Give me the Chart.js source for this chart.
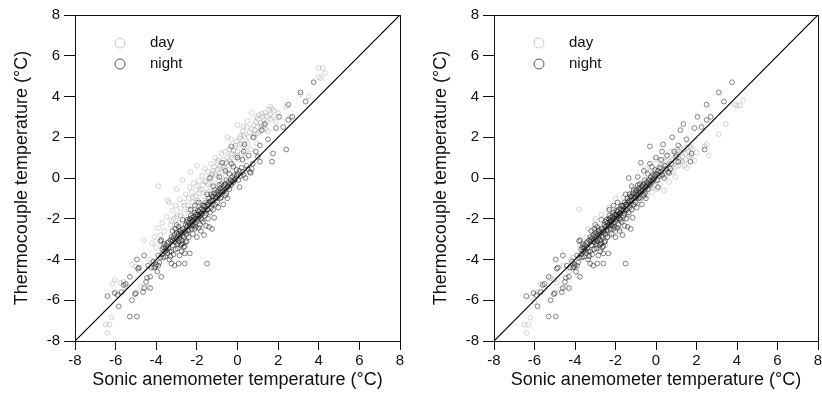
<!DOCTYPE html>
<html>
<head>
<meta charset="utf-8">
<script src="https://cdn.jsdelivr.net/npm/chart.js@4"></script>
<style>
    html, body { margin: 0; padding: 0; background: #fff; overflow: hidden; }
    #wrap { position: relative; width: 822px; height: 394px; overflow: hidden; }
    canvas { position: absolute; top: 0; }
</style>
</head>
<body>
<div id="wrap">
    <canvas id="left-chart" width="411" height="394" style="left:0"></canvas>
    <canvas id="right-chart" width="420" height="394" style="left:411px"></canvas>
</div>
<script>
// night values are the same in both panels
const nightPoints = [
    [-6.4,-5.8],[-6.05,-5.65],[-5.9,-5.75],[-5.85,-6.3],[-5.6,-5.25],[-5.5,-5.2],[-5.3,-4.85],[-5.3,-6.8],[-4.95,-6.8],[-5.2,-6.0],
    [-5.05,-5.7],[-5.0,-5.65],[-4.95,-4.0],[-4.9,-4.45],[-4.85,-4.4],[-4.65,-5.6],[-4.6,-3.8],[-4.6,-5.4],[-4.5,-5.1],[-4.45,-4.9],
    [-4.3,-4.85],[-4.3,-5.4],[-4.25,-4.4],[-4.1,-4.4],[-4.05,-4.35],[-4.0,-4.25],[-3.95,-4.6],[-3.9,-4.3],[-3.85,-4.15],[-3.8,-3.1],
    [-3.75,-3.05],[-3.75,-4.85],[-3.7,-3.5],[-3.7,-3.75],[-3.65,-3.4],[-3.6,-3.6],[-3.6,-3.25],[-3.55,-3.85],[-3.5,-3.3],[-3.5,-3.55],
    [-3.45,-3.7],[-3.4,-3.45],[-3.4,-3.15],[-3.35,-4.0],[-3.3,-3.85],[-3.3,-3.05],[-3.25,-4.2],[-3.25,-3.6],[-3.2,-2.6],[-3.2,-3.3],
    [-3.15,-3.75],[-3.1,-2.8],[-3.1,-4.3],[-3.05,-3.15],[-3.0,-3.0],[-3.0,-2.7],[-2.95,-2.85],[-2.95,-3.45],[-2.9,-3.1],[-2.9,-4.2],
    [-2.85,-2.95],[-2.85,-2.6],[-2.8,-3.3],[-2.8,-2.8],[-2.75,-2.7],[-2.75,-3.05],[-2.7,-3.2],[-2.7,-2.5],[-2.65,-3.4],[-2.65,-2.9],
    [-2.6,-3.7],[-2.6,-4.2],[-2.6,-2.65],[-2.55,-2.3],[-2.55,-3.15],[-2.5,-3.1],[-2.5,-2.4],[-2.5,-2.75],[-3.15,-2.95],[-3.05,-3.5],
    [-2.9,-2.4],[-2.75,-3.6],[-2.6,-3.35],[-3.2,-3.05],[-2.85,-3.8],[-2.45,-2.6],[-2.45,-2.05],[-2.4,-2.2],[-2.4,-2.9],[-2.35,-2.0],
    [-2.35,-3.7],[-2.3,-2.3],[-2.3,-1.85],[-2.25,-2.5],[-2.25,-2.15],[-2.2,-2.1],[-2.2,-2.75],[-2.15,-1.9],[-2.15,-2.35],[-2.1,-2.2],
    [-2.1,-1.7],[-2.05,-2.4],[-2.05,-2.0],[-2.0,-1.8],[-2.0,-2.9],[-1.95,-2.0],[-1.95,-1.6],[-1.9,-1.65],[-1.9,-2.45],[-1.85,-2.3],
    [-1.85,-1.85],[-1.8,-1.75],[-1.8,-2.6],[-1.75,-1.5],[-1.75,-2.05],[-1.7,-1.6],[-1.7,-2.15],[-1.65,-2.8],[-1.65,-1.35],[-1.6,-1.4],
    [-1.6,-1.85],[-1.55,-1.2],[-1.55,-2.35],[-1.5,-1.55],[-1.5,-4.2],[-1.45,-1.3],[-1.45,-2.0],[-1.4,-1.0],[-1.4,-2.4],[-1.35,-1.15],
    [-1.35,-1.7],[-1.3,-1.45],[-1.3,-0.8],[-1.25,-0.9],[-1.25,-2.5],[-1.2,-1.1],[-1.2,-1.55],[-1.15,-0.75],[-1.15,-1.95],[-1.1,-1.3],
    [-1.1,-0.6],[-1.05,-0.95],[-1.0,-0.7],[-1.0,-1.2],[-0.95,-0.6],[-0.95,-1.45],[-0.9,-0.85],[-0.9,-0.35],[-0.85,-0.5],[-0.85,-1.0],
    [-0.8,-0.95],[-0.8,-0.3],[-0.75,-0.7],[-0.7,-0.4],[-0.7,-1.3],[-0.65,-0.6],[-0.6,-0.3],[-0.6,-0.85],[-0.55,-0.75],[-0.55,-0.1],
    [-0.5,-0.45],[-0.5,-1.0],[-0.45,-0.2],[-0.4,-0.55],[-0.4,0.2],[-0.35,-0.1],[-0.3,-0.35],[-0.3,1.55],[-0.25,0.05],[-0.2,-0.2],
    [-0.2,0.55],[-0.15,0.15],[-0.1,-0.05],[-0.05,0.4],[0.0,0.2],[0.05,-0.1],[0.1,0.35],[0.1,-0.45],[0.2,0.5],[0.25,0.9],
    [0.3,0.15],[0.35,1.65],[0.4,0.0],[0.5,0.45],[0.55,1.1],[0.6,0.3],[0.65,0.25],[0.75,0.7],[0.8,2.0],[0.9,1.3],
    [1.1,0.8],[1.1,1.6],[1.2,2.35],[1.35,2.65],[1.5,1.9],[1.7,0.8],[1.75,1.2],[1.9,2.45],[2.05,3.0],[2.25,2.5],
    [2.4,1.4],[2.5,2.85],[2.5,3.6],[2.7,3.0],[3.1,4.2],[3.35,3.75],[3.75,4.7],[1.0,1.05],[-3.0,-2.3],[-2.7,-2.05],
    [-2.3,-1.55],[-1.9,-1.2],[-1.5,-0.8],[-1.2,-0.4],[-0.9,0.05],[-0.75,0.75],[-0.6,0.35],[-0.3,0.7],[0.0,1.0],[0.3,1.3],
    [-1.35,0.0],[-2.1,-1.35],[-3.45,-3.2],[-3.35,-3.6],[-3.25,-2.9],[-3.1,-3.1],[-3.05,-2.5],[-2.95,-3.25],[-2.9,-2.75],[-2.8,-2.55],
    [-2.75,-3.25],[-2.7,-2.85],[-2.55,-2.6],[-2.5,-2.15],[-2.45,-2.35],[-2.4,-2.55],[-2.35,-2.35],[-2.3,-2.05],[-2.25,-1.95],[-2.2,-2.3],
    [-2.15,-2.05],[-2.1,-2.5],[-2.05,-1.8],[-2.0,-2.1],[-1.95,-1.8],[-1.9,-1.9],[-1.85,-1.55],[-1.8,-2.0],[-1.75,-1.75],[-1.7,-1.35],
    [-1.6,-1.6],[-1.55,-1.75],[-1.5,-1.3],[-1.45,-1.55],[-1.4,-1.2],[-1.3,-1.1],[-1.25,-1.3],[-1.2,-0.9],[-1.1,-1.0],[-1.0,-0.95],
    [-0.95,-0.85],[-0.85,-0.7],[-0.8,-0.6],[-0.7,-0.65],[-0.65,-0.35],[-0.55,-0.5],[-0.45,-0.4],[-0.35,-0.3],[-0.25,-0.15],[-0.15,-0.1],
    [-0.05,0.1],[0.15,0.1],[0.25,0.3],[0.45,0.6],[0.7,0.45],[-4.15,-4.1],[-3.9,-3.8],[-3.65,-3.9],[-3.55,-3.45],[-3.8,-3.9],
    [-4.4,-4.3],[-5.7,-5.6]
];

// day values before correction (left panel)
const dayRawPoints = [
    [-6.4,-7.6],[-6.5,-7.2],[-6.3,-7.2],[-6.2,-6.85],[-6.15,-5.2],[-6.05,-5.0],[-6.0,-5.6],[-5.75,-5.15],[-5.6,-5.1],[-5.5,-5.3],
    [-5.2,-4.25],[-5.0,-4.35],[-4.85,-4.55],[-4.75,-5.35],[-4.6,-3.05],[-4.4,-5.35],[-4.3,-4.0],[-4.2,-3.2],[-4.1,-2.9],[-4.0,-3.4],
    [-3.9,-0.4],[-3.9,-2.45],[-3.8,-2.8],[-3.7,-2.2],[-3.6,-2.6],[-3.5,-1.9],[-3.45,-1.1],[-3.35,-1.2],[-3.3,-2.3],[-3.2,-1.6],
    [-3.15,-2.0],[-3.1,-2.5],[-3.05,-1.35],[-3.0,-0.55],[-2.95,-1.8],[-2.9,-2.2],[-2.85,-1.05],[-2.8,-1.5],[-2.75,-2.5],[-2.7,-0.1],
    [-2.65,-1.2],[-2.6,-1.75],[-2.55,-0.8],[-2.5,-2.05],[-2.45,-1.35],[-2.4,-1.0],[-2.35,-0.45],[-2.3,0.3],[-2.3,-1.6],[-2.25,-0.7],
    [-2.2,-1.2],[-2.15,-0.25],[-2.1,-1.5],[-2.05,-0.9],[-2.0,0.6],[-2.0,-0.4],[-1.95,-1.1],[-1.9,-0.15],[-1.85,-0.6],[-1.8,-1.3],
    [-1.75,0.1],[-1.7,-0.35],[-1.65,-0.9],[-1.6,0.45],[-1.55,-0.2],[-1.5,-0.7],[-1.45,0.3],[-1.4,0.0],[-1.35,-0.45],[-1.3,0.7],
    [-1.25,0.2],[-1.2,-0.25],[-1.15,0.55],[-1.1,1.0],[-1.05,0.1],[-1.0,0.4],[-0.95,0.85],[-0.9,-0.1],[-0.85,0.6],[-0.8,1.2],
    [-0.75,0.3],[-0.7,0.9],[-0.65,0.5],[-0.6,1.3],[-0.55,0.75],[-0.5,2.0],[-0.5,1.0],[-0.45,0.4],[-0.4,1.4],[-0.35,0.8],
    [-0.3,1.9],[-0.25,1.15],[-0.2,0.65],[-0.15,1.5],[-0.1,1.0],[-0.05,1.8],[0.0,2.6],[0.0,1.3],[0.05,0.9],[0.1,1.65],
    [0.15,2.05],[0.2,1.2],[0.25,2.3],[0.3,1.55],[0.35,2.0],[0.4,1.0],[0.45,2.5],[0.5,2.8],[0.5,1.7],[0.6,2.25],
    [0.65,1.4],[0.7,3.2],[0.75,2.0],[0.8,2.6],[0.85,2.35],[0.9,2.75],[0.95,1.7],[1.0,2.9],[1.0,2.5],[1.05,3.1],
    [1.1,2.3],[1.15,2.7],[1.2,2.6],[1.25,3.0],[1.3,2.85],[1.35,3.2],[1.4,2.4],[1.45,3.05],[1.5,2.3],[1.55,3.35],
    [1.6,3.5],[1.65,2.9],[1.7,3.4],[1.75,3.0],[1.8,3.3],[1.9,2.75],[2.0,3.2],[2.4,3.5],[2.6,3.0],[3.1,4.1],
    [3.5,4.0],[4.0,5.4],[4.2,5.4],[4.1,4.9],[4.3,5.15],[4.0,4.95],[-3.25,-2.1],[-3.0,-1.9],[-2.8,-1.85],[-2.6,-1.35],
    [-2.4,-1.55],[-2.2,-0.95],[-2.0,-1.2],[-1.9,-0.75],[-1.75,-0.55],[-1.6,-0.15],[-1.45,-0.3],[-1.3,0.1],[-1.2,0.35],[-1.1,0.2],
    [-1.0,0.75],[-0.9,0.45],[-0.8,0.05],[-0.7,0.6],[-0.6,0.7],[-0.5,0.25],[-0.4,0.9],[-0.3,1.2],[-0.2,1.35],[-0.1,1.6],
    [0.0,1.1],[0.1,1.95],[0.2,1.7],[0.3,2.1],[0.4,1.35],[0.55,2.0],[0.7,2.4],[0.85,2.15],[1.0,2.2],[1.15,2.5],
    [1.3,2.55],[1.45,2.75],[1.6,3.1],[1.2,3.15],[0.95,3.0],[0.3,2.55]
];

// day values after correction (right panel)
const dayCorrPoints = [
    [-6.4,-7.6],[-6.5,-7.2],[-6.3,-7.2],[-6.2,-6.85],[-6.15,-5.85],[-6.0,-6.1],[-5.85,-5.6],[-5.7,-5.2],[-5.5,-5.45],[-5.2,-4.9],
    [-5.05,-5.0],[-4.9,-5.15],[-4.7,-5.45],[-4.6,-4.3],[-4.45,-5.35],[-4.3,-4.6],[-4.2,-4.0],[-4.1,-3.9],[-4.0,-4.4],[-3.85,-4.8],
    [-3.8,-1.55],[-3.75,-3.3],[-3.7,-3.9],[-3.6,-3.35],[-3.5,-3.6],[-3.45,-2.9],[-3.35,-2.5],[-3.3,-3.8],[-3.2,-3.0],[-3.15,-3.3],
    [-3.1,-3.5],[-3.05,-2.65],[-3.0,-2.0],[-2.95,-3.1],[-2.9,-3.3],[-2.85,-2.45],[-2.8,-2.8],[-2.75,-3.45],[-2.7,-1.8],[-2.65,-2.5],
    [-2.6,-3.0],[-2.55,-2.3],[-2.5,-3.3],[-2.45,-2.7],[-2.4,-2.4],[-2.35,-1.6],[-2.3,-1.45],[-2.3,-2.85],[-2.25,-2.1],[-2.2,-2.5],
    [-2.15,-1.75],[-2.1,-2.75],[-2.05,-2.2],[-2.0,-1.0],[-2.0,-1.9],[-1.95,-2.4],[-1.9,-1.65],[-1.85,-1.95],[-1.8,-2.5],[-1.75,-1.4],
    [-1.7,-1.7],[-1.65,-2.15],[-1.6,-0.95],[-1.55,-1.5],[-1.5,-1.95],[-1.45,-1.1],[-1.4,-1.35],[-1.35,-1.8],[-1.3,-0.75],[-1.25,-1.15],
    [-1.2,-1.55],[-1.15,-0.85],[-1.1,-0.5],[-1.05,-1.2],[-1.0,-0.95],[-0.95,-0.6],[-0.9,-1.3],[-0.85,-0.75],[-0.8,-0.3],[-0.75,-1.0],
    [-0.7,-0.55],[-0.65,-0.8],[-0.6,-0.2],[-0.55,-0.6],[-0.5,0.45],[-0.5,-0.4],[-0.45,-0.85],[-0.4,-0.15],[-0.35,-0.5],[-0.3,0.3],
    [-0.25,-0.3],[-0.2,-0.7],[-0.15,0.0],[-0.1,-0.35],[-0.05,0.25],[0.0,0.9],[0.0,-0.15],[0.05,-0.55],[0.1,0.2],[0.15,0.5],
    [0.2,-0.3],[0.25,0.65],[0.3,0.1],[0.35,0.35],[0.4,-0.6],[0.45,0.8],[0.5,1.05],[0.5,0.1],[0.6,0.55],[0.65,-0.2],
    [0.7,1.3],[0.75,0.35],[0.8,0.9],[0.85,0.65],[0.9,1.0],[0.95,0.05],[1.0,1.15],[1.0,0.8],[1.05,1.35],[1.1,0.6],
    [1.15,0.95],[1.2,0.85],[1.25,1.2],[1.3,1.05],[1.35,1.4],[1.4,0.6],[1.45,1.2],[1.5,0.5],[1.55,1.5],[1.6,1.65],
    [1.65,1.05],[1.7,1.5],[1.75,1.1],[1.8,1.4],[1.9,0.85],[2.0,1.25],[2.4,1.55],[2.5,1.65],[2.6,1.1],[3.1,2.15],
    [3.45,2.65],[3.9,3.6],[4.15,3.55],[4.3,3.8],[4.0,3.55],[-3.25,-3.15],[-3.0,-2.8],[-2.8,-3.05],[-2.6,-2.6],[-2.4,-2.9],
    [-2.2,-2.2],[-2.0,-2.6],[-1.9,-2.0],[-1.75,-1.9],[-1.6,-1.55],[-1.45,-1.8],[-1.3,-1.35],[-1.2,-1.0],[-1.1,-1.3],[-1.0,-0.6],
    [-0.9,-0.9],[-0.8,-1.1],[-0.7,-0.4],[-0.6,-0.9],[-0.5,-0.65],[-0.4,-0.3],[-0.3,-0.1],[-0.2,-0.45],[-0.1,0.1],[0.0,0.35],
    [0.1,-0.1],[0.2,0.6],[0.3,0.45],[0.4,0.2],[0.55,0.65],[0.7,0.8],[0.85,0.3],[1.0,0.55],[1.15,1.3],[1.3,0.8],
    [1.45,0.9],[1.6,1.3],[1.2,1.5],[0.95,1.2],[0.3,0.85]
];

const axisMin = -8;
const axisMax = 8;
const tickStep = 2;
const diagonal = [-8, 8];
const seriesNames = [`day`, `night`];

const FONT = `"Liberation Sans", Arial, Helvetica, sans-serif`;
const DAY_COLOR = `rgba(150, 150, 150, 0.5)`;
const NIGHT_COLOR = `rgba(25, 25, 25, 0.65)`;

const toXY = list => list.map(([x, y]) => ({ x, y }));

// legend inside the plot + closed box round the plot
const boxAndLegend = {
    id: `boxAndLegend`,
    afterDraw(chart) {
        const { ctx, chartArea } = chart;
        ctx.save();
        ctx.strokeStyle = `#111`;
        ctx.lineWidth = 1;
        ctx.strokeRect(Math.round(chartArea.left) + 0.5, Math.round(chartArea.top) + 0.5,
            Math.round(chartArea.right - chartArea.left), Math.round(chartArea.bottom - chartArea.top));

        const colors = [`#c8c8c8`, `#555`];
        ctx.font = `15px ${FONT}`;
        ctx.textBaseline = `middle`;
        seriesNames.forEach((name, i) => {
            const y = chartArea.top + 28 + i * 21;
            ctx.beginPath();
            ctx.arc(chartArea.left + 45, y, 5, 0, Math.PI * 2);
            ctx.strokeStyle = colors[i];
            ctx.lineWidth = 1;
            ctx.stroke();
            ctx.fillStyle = `#111`;
            ctx.fillText(name, chartArea.left + 75, y);
        });
        ctx.restore();
    }
};

function makeChart(canvasId, dayPoints, yWidth, rightPad) {
    const ctx = document.querySelector(canvasId).getContext(`2d`);
    return new Chart(ctx, {
        type: `scatter`,
        data: {
            datasets: [
                {
                    type: `line`,
                    data: diagonal.map(v => ({ x: v, y: v })),
                    borderColor: `#000`,
                    borderWidth: 1.2,
                    pointRadius: 0,
                    order: 0
                },
                {
                    label: seriesNames[1],
                    data: toXY(nightPoints),
                    borderColor: NIGHT_COLOR,
                    backgroundColor: `rgba(0,0,0,0)`,
                    borderWidth: 0.8,
                    pointRadius: 2.4,
                    order: 1
                },
                {
                    label: seriesNames[0],
                    data: toXY(dayPoints),
                    borderColor: DAY_COLOR,
                    backgroundColor: `rgba(0,0,0,0)`,
                    borderWidth: 0.8,
                    pointRadius: 2.4,
                    order: 2
                }
            ]
        },
        options: {
            responsive: false,
            animation: false,
            layout: {
                padding: { top: 15, right: rightPad, bottom: 0, left: 0 }
            },
            plugins: {
                legend: { display: false },
                tooltip: { enabled: false }
            },
            scales: {
                x: {
                    min: axisMin,
                    max: axisMax,
                    afterFit: scale => { scale.height = 53; },
                    border: { display: true, color: `#111`, width: 1 },
                    grid: { drawOnChartArea: false, drawTicks: true, tickLength: 9, color: `#111` },
                    ticks: {
                        stepSize: tickStep,
                        padding: 2,
                        color: `#111`,
                        font: { family: FONT, size: 15 }
                    },
                    title: {
                        display: true,
                        text: `Sonic anemometer temperature (°C)`,
                        color: `#111`,
                        font: { family: FONT, size: 18 },
                        padding: { top: 0, bottom: 3 }
                    }
                },
                y: {
                    min: axisMin,
                    max: axisMax,
                    afterFit: scale => { scale.width = yWidth; },
                    border: { display: true, color: `#111`, width: 1 },
                    grid: { drawOnChartArea: false, drawTicks: true, tickLength: 11, color: `#111` },
                    ticks: {
                        stepSize: tickStep,
                        padding: 4,
                        color: `#111`,
                        font: { family: FONT, size: 15 }
                    },
                    title: {
                        display: true,
                        text: `Thermocouple temperature (°C)`,
                        color: `#111`,
                        font: { family: FONT, size: 18 },
                        padding: { top: yWidth - 64, bottom: 0 }
                    }
                }
            }
        },
        plugins: [boxAndLegend]
    });
}

makeChart(`#left-chart`, dayRawPoints, 75, 11);
makeChart(`#right-chart`, dayCorrPoints, 83, 13);
</script>
</body>
</html>
